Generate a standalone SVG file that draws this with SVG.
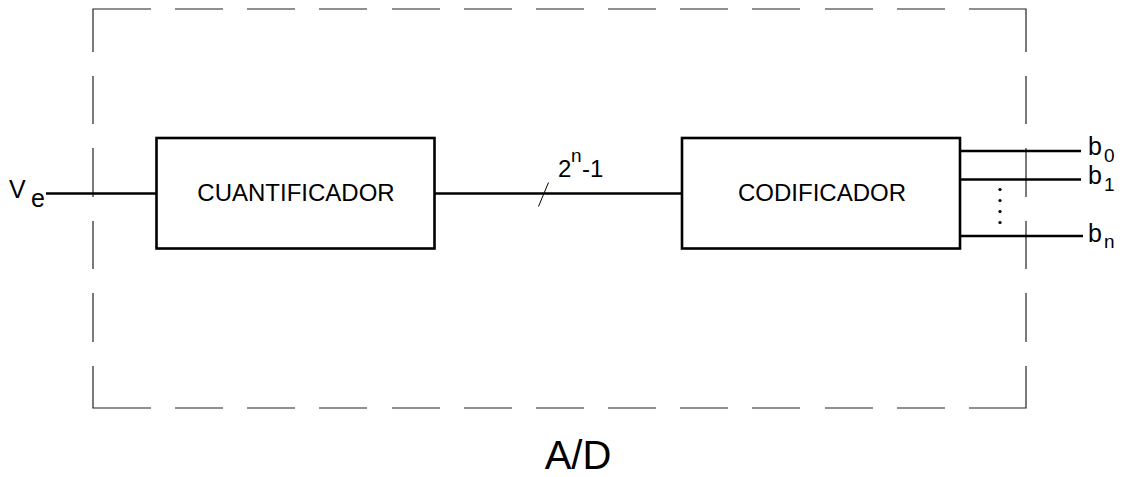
<svg xmlns="http://www.w3.org/2000/svg" width="1125" height="477" viewBox="0 0 1125 477">
<style>
text { font-family: "Liberation Sans", Arial, sans-serif; fill: #000; }
.frame { fill: none; stroke: #222; stroke-width: 1.2; }
.box { fill: none; stroke: #000; stroke-width: 2.6; }
.wire { fill: none; stroke: #000; stroke-width: 2.3; }
.thin { fill: none; stroke: #000; stroke-width: 1; }
</style>
<rect width="1125" height="477" fill="#fff"/>
<g id="frame">
<path class="frame" d="M151 9 H93 V52 M175 9 H223 M247 9 H295 M319 9 H367 M392 9 H440 M464 9 H512 M536 9 H584 M608 9 H656 M680 9 H728 M752 9 H800 M825 9 H873 M897 9 H945 M969 9 H1026 V52
M93 76 V124 M93 148 V197 M93 221 V269 M93 293 V342 M93 366 V408 H151
M1026 76 V124 M1026 148 V197 M1026 221 V269 M1026 293 V342 M1026 366 V408 H969
M175 408 H223 M247 408 H295 M319 408 H367 M392 408 H440 M464 408 H512 M536 408 H584 M608 408 H656 M680 408 H728 M752 408 H800 M825 408 H873 M897 408 H945"/>
<text x="578" y="469" font-size="40" text-anchor="middle">A/D</text>
</g>
<g id="cuantificador">
<rect class="box" x="156.5" y="138" width="278" height="110.5"/>
<text x="296" y="201" font-size="24" text-anchor="middle">CUANTIFICADOR</text>
</g>
<g id="codificador">
<rect class="box" x="682" y="138" width="278" height="110.5"/>
<text x="822" y="201" font-size="24" text-anchor="middle">CODIFICADOR</text>
</g>
<g id="connectors">
<line class="wire" x1="46" y1="193.5" x2="156" y2="193.5"/>
<text x="9" y="198" font-size="25">V</text>
<text x="31" y="207" font-size="25">e</text>
<line class="wire" x1="435" y1="193.5" x2="682" y2="193.5"/>
<line class="thin" x1="538.5" y1="206.5" x2="548.5" y2="182.5"/>
<text x="558" y="177" font-size="24">2</text>
<text x="571" y="162" font-size="19">n</text>
<text x="582" y="177" font-size="24">-1</text>
<line class="wire" x1="960" y1="151" x2="1081" y2="151"/>
<line class="wire" x1="960" y1="179.5" x2="1081" y2="179.5"/>
<line class="wire" x1="960" y1="236" x2="1083" y2="236"/>
<text x="1088" y="155" font-size="25">b</text>
<text x="1104" y="162" font-size="19">0</text>
<text x="1088" y="183.5" font-size="25">b</text>
<text x="1104" y="190.5" font-size="19">1</text>
<text x="1088" y="241.5" font-size="25">b</text>
<text x="1104" y="247.5" font-size="19">n</text>
<g fill="#000">
<circle cx="1000" cy="189.5" r="1.6"/>
<circle cx="1000" cy="200.5" r="1.6"/>
<circle cx="1000" cy="211.5" r="1.6"/>
<circle cx="1000" cy="222.5" r="1.6"/>
</g>
</g>
</svg>
